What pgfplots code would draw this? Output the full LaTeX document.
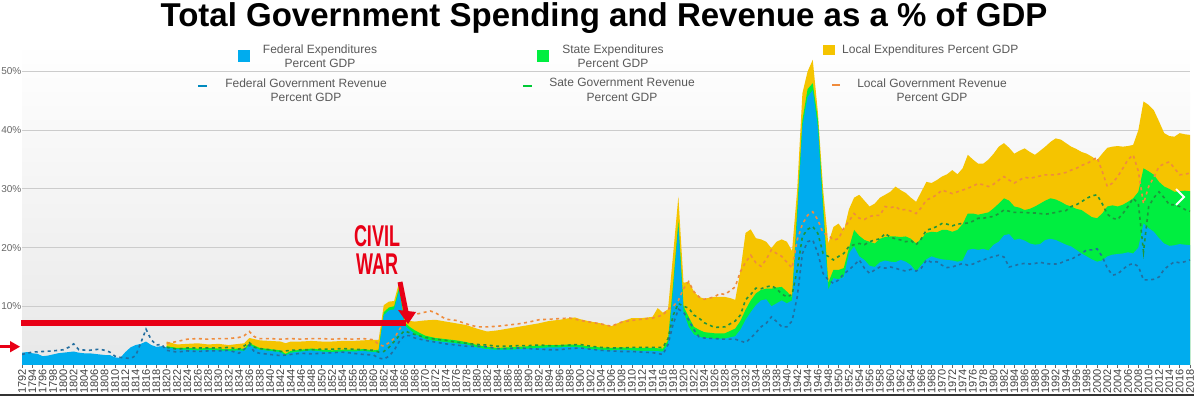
\documentclass[border=0pt]{standalone}
\usepackage{fontspec}
\setmainfont{Liberation Sans}
\usepackage{pgfplots}
\pgfplotsset{compat=1.18}
\definecolor{fedblue}{RGB}{0,172,238}
\definecolor{stgreen}{RGB}{0,238,64}
\definecolor{locyellow}{RGB}{245,196,0}
\definecolor{fedrev}{RGB}{35,110,160}
\definecolor{strev}{RGB}{30,150,60}
\definecolor{locrev}{RGB}{240,140,60}
\definecolor{civred}{RGB}{232,0,22}
\begin{document}
\begin{tikzpicture}[x=1pt,y=1pt]
\useasboundingbox (0,0) rectangle (1194,396);
\begin{axis}[
  at={(22pt,31pt)}, anchor=south west,
  scale only axis, width=1168pt, height=322.85pt,
  xmin=1792, xmax=2018, ymin=0, ymax=55,
  xtick={1792,1794,...,2018}, minor x tick num=1,
  ytick={10,20,30,40,50},
  ymajorgrids, grid style={black!20, line width=0.8pt},
  axis line style={draw=none},
  tick align=outside, xtick pos=bottom, ytick pos=left,
  major tick length=3pt, minor tick length=3pt,
  ytick style={draw=none},
  x tick style={black!60, line width=0.6pt},
  xticklabel style={rotate=90, anchor=east, font=\fontsize{11}{11}\selectfont, text=black!75, inner sep=1pt},
  yticklabel style={font=\fontsize{10}{10}\selectfont, text=black!60, inner sep=0.5pt, xshift=3pt},
  yticklabel={\pgfmathprintnumber{\tick}\%},
  /pgf/number format/1000 sep={},
  /pgf/number format/assume math mode=true,
  axis background/.style={shade, top color=white, middle color=white, bottom color=black!9},
]
% Local expenditures (cumulative total)
\addplot[fill=locyellow, draw=none] coordinates {
(1820,4.0)(1822,3.5)(1824,3.6)(1826,3.7)(1828,3.5)(1830,3.6)(1832,3.4)(1834,3.6)(1835,3.7)(1836,4.6)(1837,4.4)(1838,4.2)(1840,4.1)(1842,4.0)(1843,3.7)(1844,4.0)(1846,4.0)(1848,4.1)(1850,4.0)(1852,4.0)(1854,4.1)(1856,4.1)(1858,4.2)(1860,4.3)(1861,4.3)
(1862,10.2)(1863,10.8)(1864,10.9)(1865,14.2)(1866,8.0)(1867,7.5)(1868,7.4)(1870,7.6)(1872,7.7)(1874,7.4)(1876,7.1)(1878,6.8)(1880,6.2)(1882,5.7)(1884,5.9)(1886,6.2)(1888,6.5)(1890,6.8)(1892,7.1)(1894,7.5)(1896,7.7)(1898,8.0)(1899,8.1)(1900,7.8)(1902,7.4)(1904,7.1)(1906,6.6)(1908,7.4)(1910,8.0)(1912,8.0)(1914,8.2)(1915,9.7)(1916,8.9)(1917,9.5)
(1918,19.0)(1919,28.7)(1920,14.0)(1921,14.2)(1922,12.5)(1923,11.6)(1924,11.3)(1926,11.6)(1928,11.6)(1929,11.4)(1930,11.1)(1931,16.0)(1932,22.5)(1933,23.1)(1934,21.6)(1935,21.4)(1936,21.0)(1937,19.9)(1938,21.0)(1939,21.4)(1940,21.0)(1941,19.4)
(1942,30.0)(1943,46.3)(1944,50.0)(1945,52.0)(1946,43.0)(1947,30.0)(1948,20.7)(1949,23.5)(1950,24.1)(1951,22.8)(1952,26.5)(1953,28.5)(1954,29.0)(1955,28.0)(1956,27.0)(1957,27.5)(1958,28.5)(1959,29.0)(1960,29.5)(1961,30.4)(1962,29.8)(1963,29.3)(1964,28.5)(1965,27.8)(1966,29.5)(1967,31.2)(1968,31.0)(1969,31.5)(1970,32.1)(1971,32.5)(1972,33.2)(1973,32.5)(1974,33.5)(1975,35.8)(1976,35.0)(1977,34.3)(1978,34.3)(1979,35.0)(1980,36.0)(1981,37.2)(1982,37.8)(1983,37.0)(1984,36.0)(1985,36.5)(1986,36.9)(1987,36.3)(1988,35.8)(1989,36.5)(1990,37.2)(1991,38.0)(1992,38.6)(1993,38.4)(1994,37.8)(1995,37.2)(1996,36.8)(1997,36.3)(1998,36.0)(1999,35.5)(2000,34.9)(2001,36.0)(2002,37.0)(2003,37.2)(2004,37.3)(2005,37.2)(2006,37.3)(2007,37.5)(2008,40.0)(2009,44.9)(2010,44.3)(2011,43.4)(2012,41.5)(2013,39.5)(2014,39.0)(2015,38.9)(2016,39.5)(2017,39.3)(2018,39.2)
} \closedcycle;
% State expenditures (cumulative federal + state)
\addplot[fill=stgreen, draw=none] coordinates {
(1820,3.2)(1822,2.9)(1824,2.9)(1826,2.8)(1828,2.9)(1830,2.8)(1832,2.7)(1834,2.8)(1835,2.8)(1836,3.7)(1837,3.3)(1838,2.9)(1840,2.7)(1842,2.5)(1843,1.9)(1844,2.4)(1846,2.6)(1848,2.8)(1850,2.6)(1852,2.5)(1854,2.6)(1856,2.6)(1858,2.7)(1860,2.5)(1861,2.6)
(1862,9.0)(1863,9.8)(1864,10.0)(1865,13.3)(1866,7.3)(1867,6.5)(1868,5.9)(1870,5.0)(1872,4.6)(1874,4.4)(1876,4.2)(1878,3.9)(1880,3.4)(1882,3.1)(1884,2.9)(1886,3.0)(1888,3.1)(1890,3.2)(1892,3.3)(1894,3.4)(1896,3.4)(1898,3.5)(1900,3.4)(1902,3.1)(1904,3.0)(1906,2.9)(1908,3.0)(1910,2.9)(1912,2.9)(1914,2.9)(1916,2.8)(1917,4.2)
(1918,14.0)(1919,24.5)(1920,10.0)(1921,8.2)(1922,6.5)(1923,6.0)(1924,5.6)(1926,5.4)(1928,5.4)(1930,6.2)(1931,7.5)(1932,9.4)(1933,11.0)(1934,12.2)(1935,12.8)(1936,13.0)(1937,13.0)(1938,13.2)(1939,13.3)(1940,12.5)(1941,11.6)
(1942,26.5)(1943,41.7)(1944,47.0)(1945,48.0)(1946,41.8)(1947,27.5)(1948,14.0)(1949,16.2)(1950,16.2)(1951,16.5)(1952,19.9)(1953,23.0)(1954,22.0)(1955,21.3)(1956,21.0)(1957,20.7)(1958,21.5)(1959,21.8)(1960,21.9)(1961,21.9)(1962,21.8)(1963,21.9)(1964,21.5)(1965,20.7)(1966,21.5)(1967,22.5)(1968,22.7)(1969,22.6)(1970,23.0)(1971,23.0)(1972,22.7)(1973,23.0)(1974,24.0)(1975,25.8)(1976,25.8)(1977,25.6)(1978,25.8)(1979,26.0)(1980,26.7)(1981,27.5)(1982,28.4)(1983,28.0)(1984,27.0)(1985,26.8)(1986,26.4)(1987,26.6)(1988,27.0)(1989,27.5)(1990,28.0)(1991,28.4)(1992,28.2)(1993,27.8)(1994,27.3)(1995,27.0)(1996,26.6)(1997,26.4)(1998,25.8)(1999,25.2)(2000,25.0)(2001,25.8)(2002,27.0)(2003,27.2)(2004,27.0)(2005,27.3)(2006,27.8)(2007,28.4)(2008,29.5)(2009,33.5)(2010,33.0)(2011,32.4)(2012,31.2)(2013,30.4)(2014,30.0)(2015,29.5)(2016,29.6)(2017,29.7)(2018,29.6)
} \closedcycle;
% Federal expenditures
\addplot[fill=fedblue, draw=none] coordinates {
(1792,2.1)(1793,2.2)(1794,2.0)(1795,1.9)(1796,1.5)(1797,1.6)(1798,1.8)(1799,2.0)(1800,2.1)(1801,2.2)(1802,2.3)(1803,2.1)(1804,2.0)(1805,2.0)(1806,1.9)(1807,1.8)(1808,1.7)(1809,1.7)(1810,1.3)(1811,1.2)(1812,2.2)(1813,3.0)(1814,3.4)(1815,3.6)(1816,4.0)(1817,3.4)(1818,3.1)(1819,3.2)
(1820,3.0)(1822,2.7)(1824,2.6)(1826,2.5)(1828,2.6)(1830,2.5)(1832,2.4)(1834,2.5)(1835,2.4)(1836,3.4)(1837,3.0)(1838,2.6)(1840,2.4)(1842,2.2)(1843,1.6)(1844,2.1)(1846,2.3)(1848,2.5)(1850,2.3)(1852,2.2)(1854,2.3)(1856,2.3)(1858,2.4)(1860,2.2)(1861,2.3)
(1862,8.5)(1863,9.3)(1864,9.5)(1865,12.7)(1866,6.8)(1867,6.0)(1868,5.3)(1870,4.4)(1872,4.1)(1874,3.9)(1876,3.7)(1878,3.5)(1880,3.0)(1882,2.7)(1884,2.6)(1886,2.6)(1888,2.7)(1890,2.8)(1892,2.9)(1894,3.0)(1896,3.0)(1898,3.1)(1900,3.0)(1902,2.7)(1904,2.6)(1906,2.5)(1908,2.6)(1910,2.5)(1912,2.4)(1914,2.4)(1916,2.3)(1917,3.5)
(1918,13.0)(1919,23.6)(1920,9.0)(1921,6.5)(1922,5.2)(1923,4.8)(1924,4.6)(1926,4.5)(1928,4.5)(1930,4.9)(1931,6.0)(1932,7.7)(1933,9.0)(1934,10.2)(1935,11.0)(1936,11.2)(1937,10.0)(1938,10.5)(1939,11.0)(1940,10.5)(1941,11.0)
(1942,25.0)(1943,40.6)(1944,45.7)(1945,46.8)(1946,40.5)(1947,26.0)(1948,12.8)(1949,14.8)(1950,14.6)(1951,15.0)(1952,19.0)(1953,20.2)(1954,18.5)(1955,17.9)(1956,16.9)(1957,16.7)(1958,17.5)(1959,17.8)(1960,17.6)(1961,17.5)(1962,17.9)(1963,17.6)(1964,17.0)(1965,15.9)(1966,17.0)(1967,18.0)(1968,18.5)(1969,18.2)(1970,18.0)(1971,17.9)(1972,17.8)(1973,17.6)(1974,17.8)(1975,19.6)(1976,19.8)(1977,19.6)(1978,19.8)(1979,19.5)(1980,20.5)(1981,21.0)(1982,22.1)(1983,22.3)(1984,21.3)(1985,21.5)(1986,21.2)(1987,20.7)(1988,20.5)(1989,20.6)(1990,21.3)(1991,21.5)(1992,21.3)(1993,20.9)(1994,20.5)(1995,20.2)(1996,19.6)(1997,19.0)(1998,18.5)(1999,18.0)(2000,17.6)(2001,17.8)(2002,18.5)(2003,18.8)(2004,18.9)(2005,19.0)(2006,19.2)(2007,19.0)(2008,20.0)(2009,24.1)(2010,23.3)(2011,22.7)(2012,21.6)(2013,20.7)(2014,20.3)(2015,20.4)(2016,20.6)(2017,20.5)(2018,20.4)
} \closedcycle;
% Local government revenue (cumulative)
\addplot[locrev, line width=1.6pt, dash pattern=on 3pt off 3.5pt] coordinates {
(1820,3.7)(1822,4.0)(1824,4.4)(1826,4.5)(1828,4.4)(1830,4.5)(1832,4.5)(1834,4.7)(1835,5.0)(1836,5.7)(1837,4.8)(1838,4.5)(1840,4.5)(1842,4.4)(1844,4.5)(1846,4.4)(1848,4.5)(1850,4.5)(1852,4.4)(1854,4.5)(1856,4.4)(1858,4.5)(1860,4.3)(1861,3.5)
(1862,3.2)(1863,3.8)(1864,4.5)(1865,6.0)(1866,7.5)(1867,8.5)(1868,8.6)(1870,9.0)(1871,9.2)(1872,8.9)(1874,7.8)(1876,7.6)(1878,7.0)(1880,6.5)(1882,6.5)(1884,6.6)(1886,6.8)(1888,7.0)(1890,7.3)(1892,7.7)(1894,7.8)(1896,7.9)(1898,8.0)(1900,7.6)(1902,7.3)(1904,7.0)(1906,6.6)(1908,7.3)(1910,7.6)(1912,7.8)(1914,8.0)(1916,8.5)(1917,9.5)
(1918,10.0)(1919,11.0)(1920,13.0)(1921,14.2)(1922,12.5)(1923,11.6)(1924,11.2)(1926,11.6)(1927,12.2)(1928,12.0)(1930,13.3)(1931,15.9)(1932,17.5)(1933,18.7)(1934,17.4)(1935,16.8)(1936,18.0)(1937,19.6)(1938,19.0)(1939,18.5)(1940,17.5)(1941,16.5)
(1942,21.3)(1943,24.0)(1944,25.5)(1945,26.1)(1946,24.7)(1947,22.5)(1948,22.1)(1949,21.3)(1950,21.5)(1951,23.3)(1952,24.5)(1953,25.8)(1954,25.0)(1955,24.8)(1956,25.3)(1957,25.5)(1958,25.5)(1959,27.0)(1960,26.8)(1961,27.0)(1962,26.4)(1963,26.5)(1964,26.2)(1965,25.8)(1966,26.8)(1967,28.1)(1968,28.5)(1969,29.0)(1970,29.8)(1971,29.5)(1972,29.2)(1973,29.5)(1974,29.8)(1975,30.1)(1976,30.5)(1977,30.9)(1978,30.7)(1979,30.4)(1980,30.8)(1981,31.5)(1982,32.1)(1983,31.5)(1984,31.0)(1985,31.5)(1986,32.0)(1987,31.8)(1988,32.0)(1989,32.2)(1990,32.4)(1991,32.4)(1992,32.4)(1993,32.6)(1994,32.8)(1995,33.2)(1996,33.5)(1997,34.0)(1998,34.3)(1999,34.8)(2000,35.4)(2001,33.0)(2002,30.4)(2003,31.0)(2004,32.1)(2005,33.5)(2006,35.0)(2007,35.8)(2008,33.0)(2009,27.5)(2010,30.4)(2011,32.0)(2012,33.8)(2013,34.3)(2014,34.6)(2015,33.5)(2016,32.4)(2017,32.5)(2018,32.7)
};
% State government revenue (cumulative)
\addplot[strev, line width=1.6pt, dash pattern=on 3pt off 3.5pt] coordinates {
(1820,3.0)(1822,2.7)(1824,2.9)(1826,2.9)(1828,2.9)(1830,2.9)(1832,3.0)(1834,2.7)(1836,3.8)(1837,3.0)(1838,2.8)(1840,2.6)(1842,2.3)(1844,2.5)(1846,2.6)(1848,2.6)(1850,2.7)(1852,2.7)(1854,2.8)(1856,2.7)(1858,2.6)(1860,2.5)(1861,2.2)
(1862,2.3)(1863,3.0)(1864,4.0)(1865,5.0)(1866,5.8)(1867,5.5)(1868,5.2)(1870,4.7)(1872,4.4)(1874,4.2)(1876,3.9)(1878,3.7)(1880,3.5)(1882,3.4)(1884,3.2)(1886,3.2)(1888,3.3)(1890,3.3)(1892,3.4)(1894,3.3)(1896,3.3)(1898,3.4)(1900,3.5)(1902,3.2)(1904,3.0)(1906,2.9)(1908,2.9)(1910,3.0)(1912,3.0)(1914,3.0)(1916,3.0)(1917,4.5)
(1918,8.5)(1919,10.5)(1920,10.0)(1921,9.7)(1922,8.5)(1923,8.0)(1924,7.2)(1926,6.4)(1928,6.5)(1930,7.5)(1931,8.5)(1932,11.1)(1933,12.0)(1934,13.1)(1935,13.0)(1936,13.3)(1937,13.5)(1938,13.0)(1939,12.1)(1940,11.6)(1941,12.0)
(1942,16.2)(1943,21.9)(1944,23.1)(1945,23.6)(1946,22.4)(1947,19.0)(1948,18.5)(1949,17.9)(1950,18.5)(1951,19.0)(1952,20.2)(1953,20.5)(1954,20.7)(1955,20.5)(1956,21.0)(1957,21.3)(1958,21.5)(1959,22.4)(1960,21.8)(1961,21.5)(1962,21.3)(1963,21.0)(1964,21.2)(1965,20.5)(1966,21.5)(1967,23.0)(1968,23.2)(1969,23.6)(1970,24.1)(1971,24.0)(1972,23.7)(1973,24.0)(1974,24.1)(1975,24.2)(1976,24.5)(1977,25.0)(1978,25.0)(1979,25.2)(1980,25.3)(1981,25.8)(1982,26.4)(1983,26.2)(1984,26.0)(1985,26.0)(1986,26.0)(1987,25.9)(1988,25.9)(1989,25.8)(1990,25.7)(1991,25.8)(1992,26.0)(1993,26.2)(1994,26.3)(1995,27.0)(1996,27.3)(1997,27.8)(1998,28.4)(1999,28.8)(2000,29.0)(2001,27.5)(2002,25.7)(2003,25.0)(2004,24.8)(2005,25.8)(2006,27.0)(2007,28.4)(2008,27.5)(2009,19.3)(2010,27.0)(2011,28.5)(2012,29.5)(2013,28.5)(2014,27.3)(2015,27.3)(2016,27.0)(2017,26.5)(2018,26.2)
};
% Federal government revenue
\addplot[fedrev, line width=1.6pt, dash pattern=on 3pt off 3.5pt] coordinates {
(1792,1.8)(1794,2.2)(1796,2.3)(1798,2.4)(1800,2.6)(1801,3.0)(1802,3.6)(1803,2.6)(1805,2.5)(1807,2.7)(1808,2.5)(1809,2.2)(1810,1.5)(1811,1.3)(1812,1.2)(1813,1.1)(1814,1.6)(1815,3.8)(1816,6.1)(1817,4.3)(1818,3.4)(1819,3.5)
(1820,2.5)(1822,2.2)(1824,2.4)(1826,2.3)(1828,2.4)(1830,2.4)(1832,2.5)(1834,2.0)(1836,3.4)(1837,2.2)(1838,2.0)(1840,1.8)(1842,1.6)(1844,1.8)(1846,2.0)(1848,1.9)(1850,2.0)(1852,2.1)(1854,2.2)(1856,2.0)(1858,1.8)(1860,1.7)(1861,1.2)
(1862,1.0)(1863,1.5)(1864,2.5)(1865,4.0)(1866,5.0)(1867,5.0)(1868,4.6)(1870,4.2)(1872,3.9)(1874,3.6)(1876,3.4)(1878,3.2)(1880,3.2)(1882,3.1)(1884,2.8)(1886,2.8)(1888,2.9)(1890,2.8)(1892,2.7)(1894,2.6)(1896,2.6)(1898,2.8)(1900,2.9)(1902,2.7)(1904,2.5)(1906,2.4)(1908,2.3)(1910,2.3)(1912,2.2)(1914,2.1)(1916,1.8)(1917,3.5)
(1918,7.0)(1919,9.5)(1920,9.0)(1921,7.7)(1922,6.0)(1923,4.8)(1924,4.6)(1926,4.5)(1928,4.4)(1930,4.4)(1932,3.8)(1933,4.6)(1934,5.5)(1935,6.5)(1936,7.1)(1937,8.2)(1938,7.4)(1939,6.5)(1940,6.5)(1941,7.5)
(1942,11.6)(1943,19.0)(1944,21.0)(1945,21.3)(1946,19.0)(1947,15.6)(1948,14.5)(1949,13.9)(1950,14.5)(1951,15.5)(1952,16.2)(1953,17.0)(1954,17.9)(1955,16.5)(1956,15.6)(1957,16.2)(1958,16.7)(1959,16.5)(1960,16.7)(1961,16.5)(1962,16.2)(1963,16.0)(1964,16.3)(1965,16.0)(1966,16.5)(1967,17.9)(1968,17.5)(1969,17.6)(1970,17.0)(1971,16.6)(1972,16.7)(1973,17.0)(1974,17.3)(1975,17.0)(1976,17.2)(1977,17.6)(1978,17.9)(1979,18.2)(1980,18.5)(1981,18.7)(1982,18.4)(1983,16.7)(1984,16.9)(1985,17.2)(1986,17.3)(1987,17.2)(1988,17.3)(1989,17.5)(1990,17.3)(1991,17.2)(1992,17.2)(1993,17.4)(1994,17.8)(1995,18.0)(1996,18.5)(1997,19.0)(1998,19.6)(1999,19.6)(2000,19.8)(2001,18.5)(2002,16.5)(2003,15.3)(2004,15.5)(2005,16.3)(2006,17.0)(2007,17.3)(2008,16.8)(2009,14.5)(2010,14.5)(2011,14.6)(2012,15.0)(2013,16.3)(2014,17.0)(2015,17.6)(2016,17.4)(2017,17.6)(2018,17.9)
};
\end{axis}
% Title
\node[anchor=base, font=\fontsize{33}{33}\selectfont\bfseries] at (604,369) {Total Government Spending and Revenue as a \% of GDP};
% Legend
\begin{scope}[every node/.style={font=\fontsize{12}{14.5}\selectfont, text=black!65, align=center, inner sep=0pt}]
\fill[fedblue] (238,334) rectangle (250,346);
\node at (320,340) {Federal Expenditures\\Percent GDP};
\fill[stgreen] (537,334) rectangle (549,346);
\node at (613,340) {State Expenditures\\Percent GDP};
\fill[locyellow] (823,341) rectangle (835,351);
\node[anchor=west] at (842,346) {Local Expenditures Percent GDP};
\draw[fedblue!80!black, line width=1.8pt] (198,310) -- (207,310);
\node at (306,306) {Federal Government Revenue\\Percent GDP};
\draw[stgreen!85!black, line width=1.8pt] (523,310) -- (532,310);
\node at (622,306) {Sate Government Revenue\\Percent GDP};
\draw[locrev, line width=1.8pt] (832,311) -- (840,311);
\node at (932,306) {Local Government Revenue\\Percent GDP};
\end{scope}
% Civil war annotation
\node[anchor=base, text=civred, font=\fontsize{30}{30}\selectfont\bfseries, xscale=0.6, inner sep=0pt] at (377,149) {CIVIL};
\node[anchor=base, text=civred, font=\fontsize{30}{30}\selectfont\bfseries, xscale=0.6, inner sep=0pt] at (377,121) {WAR};
\draw[civred, line width=6pt] (21,73) -- (406,73);
\draw[civred, line width=5pt] (400,114) -- (406,84);
\fill[civred] (398,86) -- (416,84) -- (408,72) -- cycle;
\draw[civred, line width=3.5pt] (0,49.3) -- (12,49.3);
\fill[civred] (10,55) -- (20,49.3) -- (10,43.6) -- cycle;
% navigation chevron
\draw[white, line width=2pt] (1176,207) -- (1184,199) -- (1176,191);
% bottom frame edge
\fill[black!80] (0,0) rectangle (1194,2);
\end{tikzpicture}
\end{document}
